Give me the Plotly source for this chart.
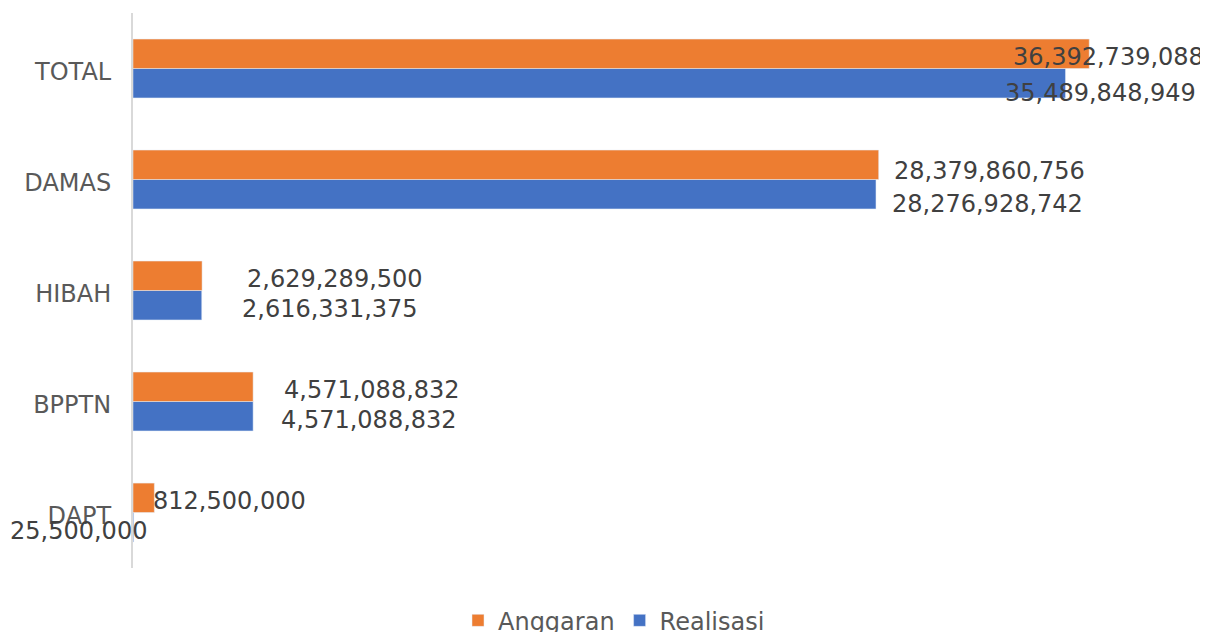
import plotly.graph_objects as go

categories = ["DAPT", "BPPTN", "HIBAH", "DAMAS", "TOTAL"]
anggaran = [812500000, 4571088832, 2629289500, 28379860756, 36392739088]
realisasi = [25500000, 4571088832, 2616331375, 28276928742, 35489848949]

# label offsets (px) relative to bar end, as in the reference
ang_xshift = [-3, 29, 43, 13, -78]
real_xshift = [-126, 26, 38, 14, -63]
ang_yshift = [12, 12, 12, 9, 12]
real_yshift = [-18, -18, -18, -24, -24]

ORANGE = "#ED7D31"
BLUE = "#4472C4"
FONT = "DejaVu Sans"

fig = go.Figure()
fig.add_trace(go.Bar(y=categories, x=realisasi, orientation="h", name="Realisasi",
                     marker_color=BLUE, legendrank=2))
fig.add_trace(go.Bar(y=categories, x=anggaran, orientation="h", name="Anggaran",
                     marker_color=ORANGE, legendrank=1))

def fmt(v):
    return f"{v:,}"

annotations = []
for i, c in enumerate(categories):
    annotations.append(dict(x=anggaran[i], y=c, xref="x", yref="y", text=fmt(anggaran[i]),
                            showarrow=False, xanchor="left", yanchor="middle",
                            xshift=ang_xshift[i], yshift=ang_yshift[i],
                            font=dict(family=FONT, size=24, color="#404040")))
    annotations.append(dict(x=realisasi[i], y=c, xref="x", yref="y", text=fmt(realisasi[i]),
                            showarrow=False, xanchor="left", yanchor="middle",
                            xshift=real_xshift[i], yshift=real_yshift[i],
                            font=dict(family=FONT, size=24, color="#404040")))

# page body has an 8px margin, so the figure is drawn 8px smaller and offset
fig.update_layout(
    width=1200, height=624,
    margin=dict(l=125, r=24, t=5, b=64, autoexpand=False),
    paper_bgcolor="white", plot_bgcolor="white",
    barmode="group", bargap=0.47, bargroupgap=0,
    font=dict(family=FONT, size=24, color="#595959"),
    showlegend=True,
    legend=dict(orientation="h", xref="container", yref="container",
                x=0.505, xanchor="center", y=0.018, yanchor="middle",
                font=dict(family=FONT, size=24, color="#595959"),
                itemwidth=30, tracegroupgap=0),
    annotations=annotations,
)
fig.update_xaxes(range=[0, 40e9], showgrid=False, zeroline=False, showticklabels=False,
                 showline=False, ticks="", automargin=False)
fig.update_yaxes(showline=True, linecolor="#D9D9D9", linewidth=2, showgrid=False,
                 ticks="", ticklabelstandoff=15, ticklabelshift=3, automargin=False,
                 tickfont=dict(family=FONT, size=24, color="#595959"))

fig.write_html("out.html")
